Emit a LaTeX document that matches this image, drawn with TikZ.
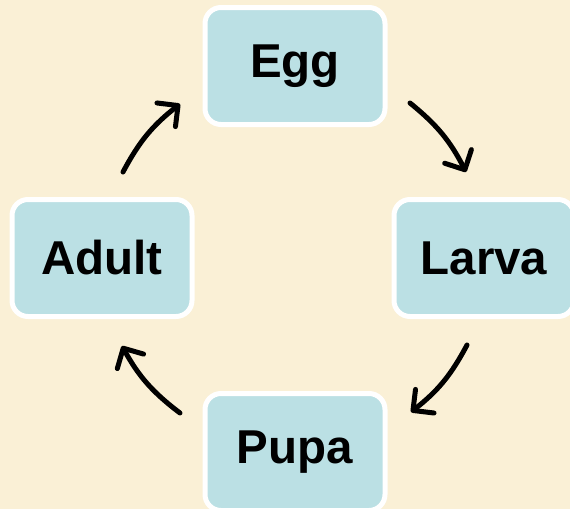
\documentclass[tikz,border=0pt]{standalone}
\usepackage{fontspec}
\setmainfont{Liberation Sans}
\usetikzlibrary{arrows.meta}
\definecolor{bgc}{RGB}{250,240,214}
\definecolor{boxc}{RGB}{187,224,228}
\tikzset{
  stage/.style={draw=white, fill=boxc, line width=5pt, rounded corners=16pt,
    minimum width=180pt, minimum height=117pt, inner sep=0pt,
    font=\fontsize{47.5}{52}\selectfont\bfseries},
  cyc/.style={line width=5pt, line cap=round, line join=round,
    -{Straight Barb[length=15pt,width=30pt,line width=5pt,round]}, bend left=12}
}
\begin{document}
\begin{tikzpicture}[x=1pt,y=-1pt]
\fill[bgc] (0,0) rectangle (570,509);
\useasboundingbox (0,0) rectangle (570,509);
\clip (0,0) rectangle (570,509);
\node[stage] (egg) at (295,66) {Egg};
\node[stage] (larva) at (484,258) {Larva};
\node[stage] (pupa) at (295,452) {Pupa};
\node[stage] (adult) at (102,258) {Adult};
\coordinate (a1) at (123,172); \coordinate (a2) at (180,104);
\coordinate (b1) at (410,103); \coordinate (b2) at (466,172);
\coordinate (c1) at (467,345); \coordinate (c2) at (411,412);
\coordinate (d1) at (180,413); \coordinate (d2) at (122,346);
\draw[cyc] (a1) to (a2);
\draw[cyc] (b1) to (b2);
\draw[cyc] (c1) to (c2);
\draw[cyc] (d1) to (d2);
\end{tikzpicture}
\end{document}
